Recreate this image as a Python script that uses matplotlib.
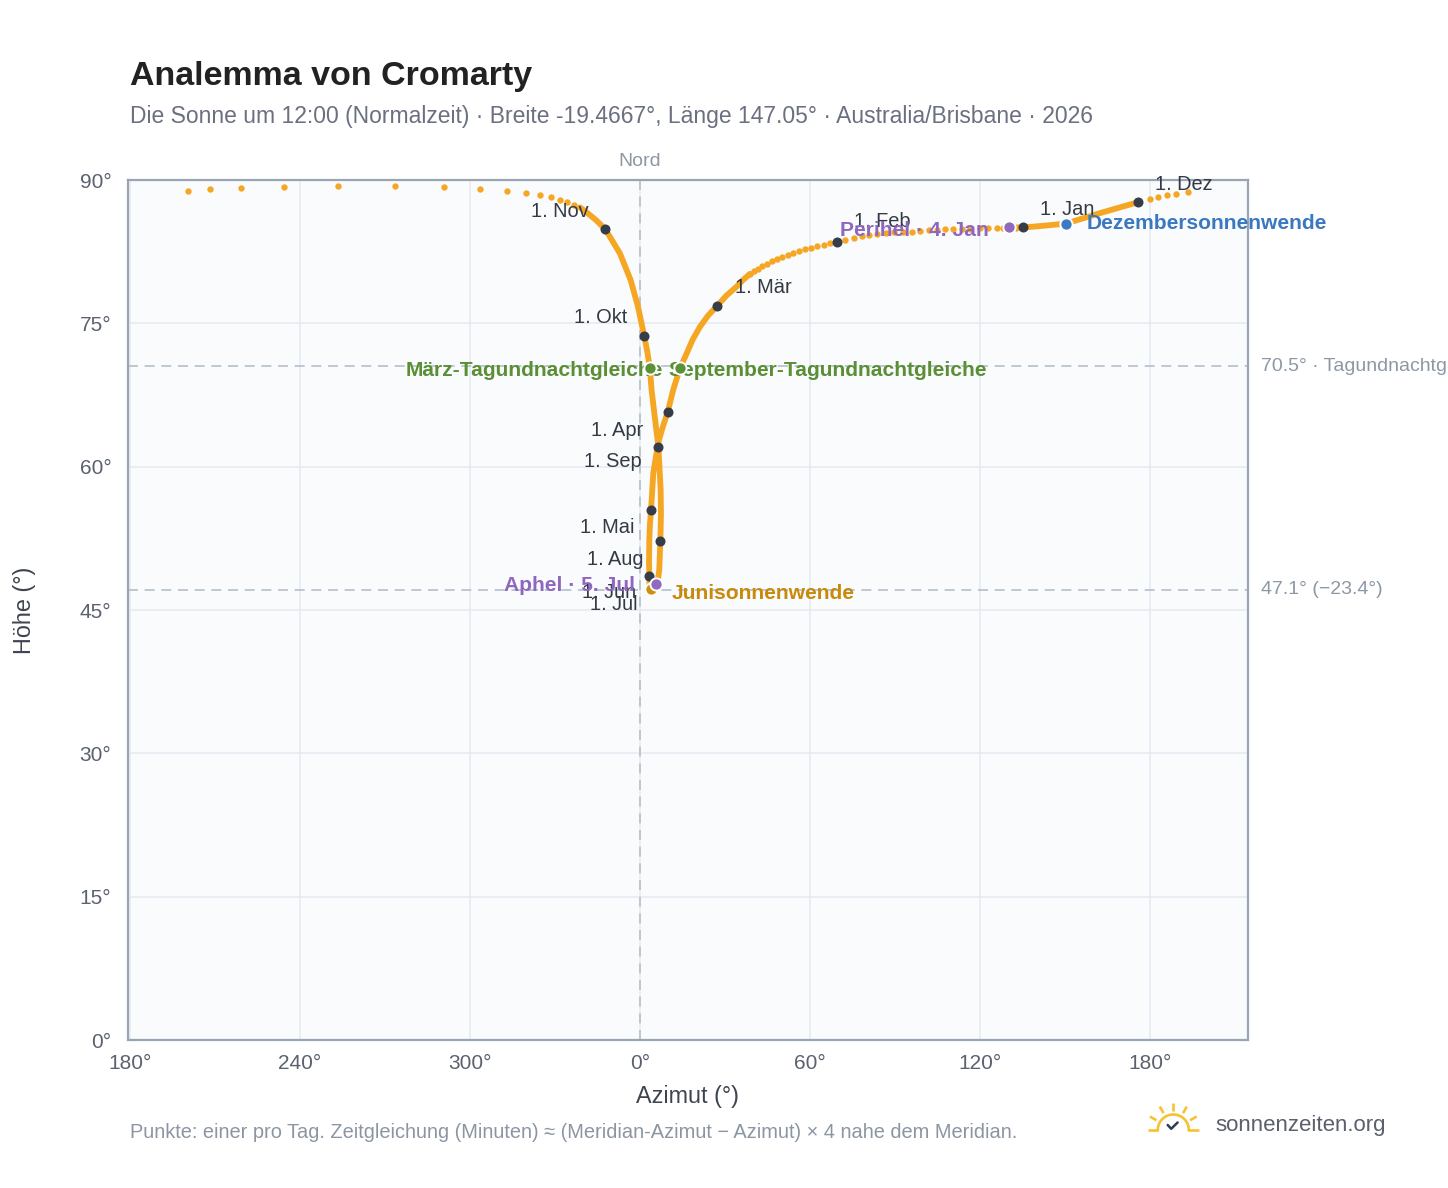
import numpy as np
import matplotlib
matplotlib.use("Agg")
import matplotlib.pyplot as plt

plt.rcParams['font.family'] = ['Liberation Sans', 'DejaVu Sans']

# --- data (azimuth shifted so that North = 0) ---
# sparse daily dots from Jan 1 towards late February
early_x = [132.8, 128.1, 125.9, 122.9, 120.0, 116.5, 113.5, 110.6, 107.6, 104.7,
           102.0, 98.8, 95.9, 92.8, 89.5, 86.7, 83.8, 81.0, 78.2, 75.4, 72.5,
           69.7, 67.1, 64.8, 62.4, 60.3, 58.1, 56.1, 54.0, 52.1, 50.3, 48.4,
           46.6, 44.9, 43.2, 41.6, 40.1, 38.8]
early_y = [84.98, 84.99, 84.98, 84.94, 84.94, 84.90, 84.90, 84.87, 84.84, 84.77,
           84.73, 84.66, 84.59, 84.56, 84.51, 84.43, 84.35, 84.25, 84.11, 83.95, 83.77,
           83.56, 83.38, 83.23, 83.09, 82.91, 82.75, 82.57, 82.36, 82.15, 81.94, 81.73,
           81.49, 81.24, 81.00, 80.72, 80.45, 80.17]

# dense part: March -> figure eight -> early November
main_x = [38.8, 36.4, 34.1, 30.5, 27.2, 24.0, 21.2, 18.6, 16.5, 14.1, 11.7, 9.8,
          8.1, 6.7, 5.6, 4.7, 3.9, 3.5, 3.3, 3.2, 3.3, 3.4, 3.9, 4.9, 5.6, 6.4,
          6.8, 7.2, 7.4, 7.3, 6.5, 5.3, 4.1, 3.5, 2.6, 1.5, 0.4, -0.7, -3.3,
          -7.1, -12.2, -15.5, -18.4, -21.2]
main_y = [80.17, 79.55, 78.84, 77.90, 76.82, 75.80, 74.65, 73.30, 71.86, 70.29, 68.02, 65.72,
          64.20, 62.79, 61.00, 59.31, 55.46, 53.90, 52.33, 50.00, 48.56, 47.60, 47.15, 47.41, 47.69, 48.30,
          49.19, 52.25, 55.00, 57.56, 62.09, 65.00, 68.02, 70.29, 72.00, 73.71, 75.20, 76.74, 79.53,
          82.33, 84.84, 85.80, 86.51, 87.14]

# sparse daily dots of November (wrapping round the south) up to Dec 1
late_x = [-23.2, -25.6, -28.1, -31.3, -35.2, -40.3, -47.0, -56.3, -69.1, -86.5,
          -106.5, -125.5, -140.7, -151.6, -159.6, 193.4, 189.2, 185.9, 183.0, 180.0]
late_y = [87.41, 87.66, 87.94, 88.22, 88.46, 88.67, 88.88, 89.06, 89.23, 89.34,
          89.37, 89.30, 89.19, 89.02, 88.88, 88.74, 88.57, 88.40, 88.19, 87.97]

# dense part: December -> early January
dec_x = [175.7, 162.9, 150.2, 142.7, 135.3, 130.3]
dec_y = [87.67, 86.58, 85.43, 85.22, 85.03, 85.05]

months = ['1. Jan', '1. Feb', '1. Mär', '1. Apr', '1. Mai', '1. Jun',
          '1. Jul', '1. Aug', '1. Sep', '1. Okt', '1. Nov', '1. Dez']
month_x = [135.3, 69.7, 27.2, 9.8, 3.9, 3.3, 4.9, 7.2, 6.5, 1.5, -12.2, 175.7]
month_y = [85.03, 83.56, 76.82, 65.72, 55.46, 48.56, 47.41, 52.25, 62.09, 73.71, 84.84, 87.67]

events = ['März-Tagundnachtgleiche', 'September-Tagundnachtgleiche', 'Junisonnenwende',
          'Dezembersonnenwende', 'Perihel · 4. Jan', 'Aphel · 5. Jul']
event_x = [14.1, 3.5, 3.9, 150.2, 130.3, 5.65]
event_y = [70.29, 70.29, 47.15, 85.43, 85.05, 47.69]

equinox_alt = 70.5
solstice_alt = 47.1
x_ticks = [-180, -120, -60, 0, 60, 120, 180]
x_ticklabels = ['180°', '240°', '300°', '0°', '60°', '120°', '180°']
y_ticks = [0, 15, 30, 45, 60, 75, 90]

# --- styling / layout ---
W, H = 1448, 1188
orange = '#f5a623'
dark = '#363c48'
event_colors = ['#5b9237', '#5b9237', '#d0900f', '#3b7bc4', '#9169c1', '#9169c1']
event_text_colors = ['#5a8f34', '#5a8f34', '#c98a0b', '#3a78c0', '#8f67bf', '#8f67bf']
# label offsets in pixels (dx, dy) and alignment
month_off = [(17, 18, 'left'), (17, 20, 'left'), (18, 18, 'left'), (-24, -18, 'right'),
             (-17, -17, 'right'), (-13, -17, 'right'), (-16, -18, 'right'), (-17, -19, 'right'),
             (-17, -15, 'right'), (-17, 18, 'right'), (-17, 18, 'right'), (17, 18, 'left')]
event_off = [(-17, -2, 'right'), (19, -2, 'left'), (21, -4, 'left'), (21, 0, 'left'),
             (-20, -3, 'right'), (-21, -1, 'right')]

fig = plt.figure(figsize=(W / 100, H / 100), dpi=100)
ax = fig.add_axes([128 / W, 1 - 1040 / H, 1120 / W, 860 / H])
ax.set_facecolor('#f9fbfd')
ax.set_xlim(-180.7, 214.6)
ax.set_ylim(0, 90)

ax.set_xticks(x_ticks)
ax.set_xticklabels(x_ticklabels)
ax.set_yticks(y_ticks)
ax.set_yticklabels([f'{v}°' for v in y_ticks])
ax.tick_params(length=0, labelsize=15, labelcolor='#5b6170')
ax.tick_params(axis='y', pad=12)
ax.tick_params(axis='x', pad=10)
ax.grid(True, color='#e6eaf0', lw=1.1, zorder=0)
ax.set_axisbelow(True)
for s in ax.spines.values():
    s.set_color('#9aa5b4')
    s.set_linewidth(1.6)

ref_kw = dict(color='#b4c0cc', lw=1.2, dashes=(6, 4), zorder=1)
ax.axvline(0, **ref_kw)
ax.axhline(equinox_alt, **ref_kw)
ax.axhline(solstice_alt, **ref_kw)

ax.annotate('Nord', (0, 90), xytext=(0, 19), textcoords='offset pixels',
            ha='center', va='center', fontsize=14, color='#8d98a5', annotation_clip=False)
ax.annotate('70.5° · Tagundnachtgleiche', (1, equinox_alt), xycoords=('axes fraction', 'data'),
            xytext=(13, 0), textcoords='offset pixels', ha='left', va='center',
            fontsize=14, color='#8d98a5', annotation_clip=False)
ax.annotate('47.1° (−23.4°)', (1, solstice_alt), xycoords=('axes fraction', 'data'),
            xytext=(13, 0), textcoords='offset pixels', ha='left', va='center',
            fontsize=14, color='#8d98a5', annotation_clip=False)

# analemma
ax.plot(main_x, main_y, color=orange, lw=4.2, solid_joinstyle='round',
        solid_capstyle='round', zorder=3)
ax.plot(dec_x, dec_y, color=orange, lw=4.2, solid_joinstyle='round',
        solid_capstyle='round', zorder=3)
ax.scatter(early_x, early_y, s=21, color=orange, lw=0, zorder=3)
ax.scatter(late_x, late_y, s=21, color=orange, lw=0, zorder=3, clip_on=False)

# month markers
ax.scatter(month_x, month_y, s=52, color=dark, lw=0, zorder=5)
for lab, x, y, (dx, dy, ha) in zip(months, month_x, month_y, month_off):
    ax.annotate(lab, (x, y), xytext=(dx, dy), textcoords='offset pixels',
                ha=ha, va='center', fontsize=14.4, color='#333a44', zorder=4)

# special events
for lab, x, y, c, tc, (dx, dy, ha) in zip(events, event_x, event_y, event_colors,
                                          event_text_colors, event_off):
    ax.annotate(lab, (x, y), xytext=(dx, dy), textcoords='offset pixels',
                ha=ha, va='center', fontsize=15.1, fontweight='bold', color=tc, zorder=4)
    ax.scatter([x], [y], s=78, color=c, edgecolor='white', lw=1.4, zorder=6)

# --- texts and logo in pixel coordinates ---
ov = fig.add_axes([0, 0, 1, 1], zorder=-1)
ov.set_xlim(0, W)
ov.set_ylim(H, 0)
ov.axis('off')

ov.text(130, 84.5, 'Analemma von Cromarty', fontsize=24.5, fontweight='bold',
        color='#222222', ha='left', va='baseline')
ov.text(130, 123.5, 'Die Sonne um 12:00 (Normalzeit) · Breite -19.4667°, Länge 147.05° · '
        'Australia/Brisbane · 2026', fontsize=16.5, color='#6b7080', ha='left', va='baseline')
ov.text(25, 610, 'Höhe (°)', rotation=90, fontsize=16.8, color='#3f4550',
        ha='center', va='center')
ov.text(688, 1097, 'Azimut (°)', fontsize=16.8, color='#3f4550', ha='center', va='center')
ov.text(130, 1133, 'Punkte: einer pro Tag. Zeitgleichung (Minuten) ≈ (Meridian-Azimut − Azimut) '
        '× 4 nahe dem Meridian.', fontsize=14.4, color='#8c96a3', ha='left', va='center')
ov.text(1215.5, 1125, 'sonnenzeiten.org', fontsize=16, color='#5b5f6e', ha='left', va='center')

cx, cy = 1173.3, 1130
yellow = '#f5c232'
t = np.linspace(0, np.pi, 60)
ov.plot(cx + 15.5 * np.cos(t), cy - 15.5 * np.sin(t), color=yellow, lw=1.9)
ov.plot([1147.7, 1158.3], [cy, cy], color=yellow, lw=1.9, solid_capstyle='butt')
ov.plot([1188.3, 1199], [cy, cy], color=yellow, lw=1.9, solid_capstyle='butt')
for ang in [30, 60, 90, 120, 150]:
    a = np.radians(ang)
    ov.plot([cx + 19.5 * np.cos(a), cx + 27 * np.cos(a)],
            [cy - 19.5 * np.sin(a), cy - 27 * np.sin(a)], color=yellow, lw=1.9,
            solid_capstyle='butt')
ov.plot([1167.7, 1171.2, 1177.6], [1125, 1128.8, 1122.5], color='#2d3e55', lw=1.8,
        solid_capstyle='round', solid_joinstyle='round')

fig.savefig('out.png', dpi=100, facecolor='white')
